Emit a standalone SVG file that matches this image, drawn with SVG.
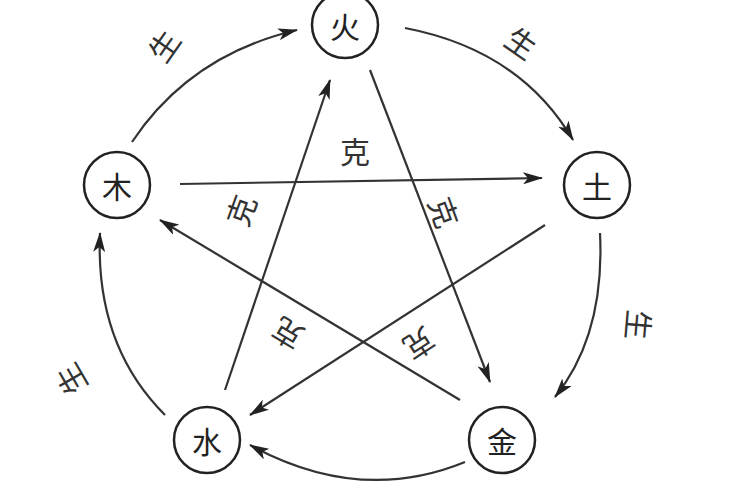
<svg xmlns="http://www.w3.org/2000/svg" width="750" height="500" viewBox="0 0 750 500">
<style>
.n{fill:#fff;stroke:#222;stroke-width:2.5}
.t{font-family:"Noto Sans CJK SC","Noto Sans",sans-serif;font-size:30px;fill:#222;text-anchor:middle;dominant-baseline:central}
.l{font-family:"Noto Sans CJK SC","Noto Sans",sans-serif;font-size:30px;fill:#333;text-anchor:middle;dominant-baseline:central}
.c{fill:none;stroke:#333;stroke-width:2.2}
</style>
<defs><marker id="a" viewBox="0 0 10 10" refX="9" refY="5" markerWidth="7" markerHeight="7" orient="auto-start-reverse" markerUnits="userSpaceOnUse"><path d="M0,0 L10,5 L0,10 Z" fill="#222" transform="scale(2)" /></marker>
<marker id="m" viewBox="0 0 20 12" refX="19" refY="6" markerWidth="20" markerHeight="12" orient="auto" markerUnits="userSpaceOnUse"><path d="M0,0 L20,6 L0,12 L5,6 Z" fill="#222"/></marker></defs>
<rect width="750" height="500" fill="#fff"/>
<g id="connectors">
<path class="c" marker-end="url(#m)" d="M132,142 Q190,55 297,30"/>
<path class="c" marker-end="url(#m)" d="M405,28 Q520,50 573,140"/>
<path class="c" marker-end="url(#m)" d="M600,233 Q605,335 555,397"/>
<path class="c" marker-end="url(#m)" d="M465,462 Q360,505 250,445"/>
<path class="c" marker-end="url(#m)" d="M165,415 Q95,345 100,233"/>
<line class="c" marker-end="url(#m)" x1="180" y1="184" x2="542" y2="178"/>
<line class="c" marker-end="url(#m)" x1="370" y1="70" x2="490" y2="382"/>
<line class="c" marker-end="url(#m)" x1="545" y1="225" x2="250" y2="415"/>
<line class="c" marker-end="url(#m)" x1="460" y1="400" x2="160" y2="220"/>
<line class="c" marker-end="url(#m)" x1="225" y1="390" x2="330" y2="80"/>
<text class="l" transform="translate(163,45) rotate(-55)">生</text>
<text class="l" transform="translate(522,42) rotate(35)">生</text>
<text class="l" transform="translate(640,325) rotate(95)">生</text>
<text class="l" transform="translate(70,380) rotate(-120)">生</text>
<text class="l" x="355" y="150">克</text>
<text class="l" transform="translate(445,212) rotate(70)">克</text>
<text class="l" transform="translate(420,345) rotate(147)">克</text>
<text class="l" transform="translate(287,335) rotate(211)">克</text>
<text class="l" transform="translate(240,210) rotate(-70)">克</text>
</g>
<g id="huo"><circle class="n" cx="345" cy="25" r="33"/><text class="t" x="345" y="25">火</text></g>
<g id="tu"><circle class="n" cx="597" cy="185" r="33"/><text class="t" x="597" y="185">土</text></g>
<g id="jin"><circle class="n" cx="502" cy="440" r="33"/><text class="t" x="502" y="440">金</text></g>
<g id="shui"><circle class="n" cx="207" cy="440" r="33"/><text class="t" x="207" y="440">水</text></g>
<g id="mu"><circle class="n" cx="117" cy="185" r="33"/><text class="t" x="117" y="185">木</text></g>
</svg>
